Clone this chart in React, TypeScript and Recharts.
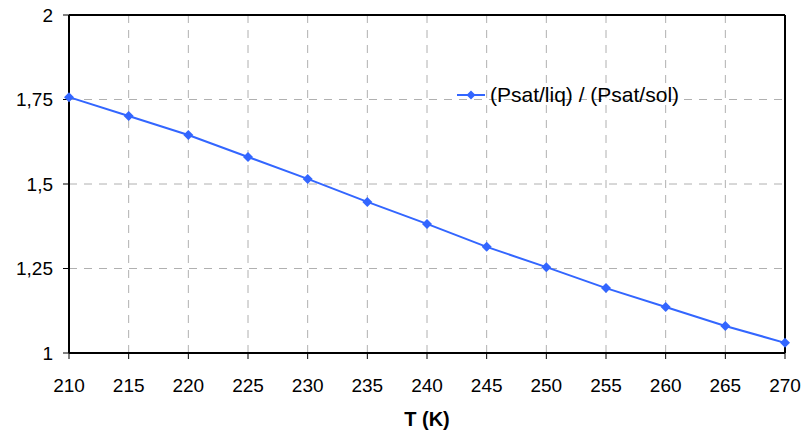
import React from 'react';
import {
  LineChart,
  Line,
  XAxis,
  YAxis,
  CartesianGrid,
  ReferenceLine,
} from 'recharts';

const temperatures = [210, 215, 220, 225, 230, 235, 240, 245, 250, 255, 260, 265, 270];
const ratios = [1.757, 1.701, 1.645, 1.58, 1.515, 1.447, 1.382, 1.314, 1.254, 1.192, 1.136, 1.08, 1.03];
const xTicks = [210, 215, 220, 225, 230, 235, 240, 245, 250, 255, 260, 265, 270];
const yTicks = [1, 1.25, 1.5, 1.75, 2];
const seriesName = '(Psat/liq) / (Psat/sol)';

const data = temperatures.map((t, i) => ({ t, ratio: ratios[i] }));

const BLUE = '#3366ff';
const FONT = 'Liberation Sans, Arial, sans-serif';

const Diamond = (props: any) => {
  const { cx, cy } = props;
  if (cx == null || cy == null) return null;
  const r = 5;
  return (
    <polygon
      points={`${cx},${cy - r} ${cx + r},${cy} ${cx},${cy + r} ${cx - r},${cy}`}
      fill={BLUE}
    />
  );
};

// legend drawn as an overlay so it doesn't eat plot space
const LegendBox = () => (
  <div
    style={{
      position: 'absolute',
      left: 457,
      top: 83,
      display: 'flex',
      alignItems: 'center',
      fontFamily: FONT,
      fontSize: 21,
      color: '#000',
      whiteSpace: 'nowrap',
    }}
  >
    <svg width={28} height={14} style={{ marginRight: 5 }}>
      <line x1={0} y1={7} x2={28} y2={7} stroke={BLUE} strokeWidth={2} />
      <polygon points="14,2.5 18.5,7 14,11.5 9.5,7" fill={BLUE} />
    </svg>
    <span>{seriesName}</span>
  </div>
);

const fmt = (v: number) => String(v).replace('.', ',');

export default function App() {
  return (
    <div style={{ position: 'absolute', left: 0, top: 0, width: 805, height: 434, background: '#fff' }}>
      <LineChart
        width={805}
        height={434}
        data={data}
        margin={{ top: 15, right: 20, left: 0, bottom: 0 }}
      >
        <CartesianGrid stroke="#b0b0b0" strokeDasharray="8 7" />
        <XAxis
          dataKey="t"
          type="number"
          domain={[210, 270]}
          ticks={xTicks}
          height={81}
          axisLine={{ stroke: '#000', strokeWidth: 2 }}
          tickLine={{ stroke: '#000' }}
          tickSize={6}
          tickMargin={20}
          tick={{ fill: '#000', fontSize: 19, fontFamily: FONT }}
          label={{
            value: 'T (K)',
            position: 'insideBottom',
            offset: 8,
            fill: '#000',
            fontSize: 20,
            fontWeight: 'bold',
            fontFamily: FONT,
          }}
        />
        <YAxis
          type="number"
          domain={[1, 2]}
          ticks={yTicks}
          width={69}
          axisLine={{ stroke: '#000', strokeWidth: 2 }}
          tickLine={{ stroke: '#000' }}
          tickSize={6}
          tickMargin={10}
          tickFormatter={fmt}
          tick={{ fill: '#000', fontSize: 19, fontFamily: FONT }}
        />
        <ReferenceLine y={2} stroke="#000" strokeWidth={2} />
        <ReferenceLine x={270} stroke="#000" strokeWidth={2} />
        <Line
          dataKey="ratio"
          name={seriesName}
          stroke={BLUE}
          strokeWidth={2}
          dot={<Diamond />}
          activeDot={false}
          isAnimationActive={false}
        />
      </LineChart>
      <LegendBox />
    </div>
  );
}
